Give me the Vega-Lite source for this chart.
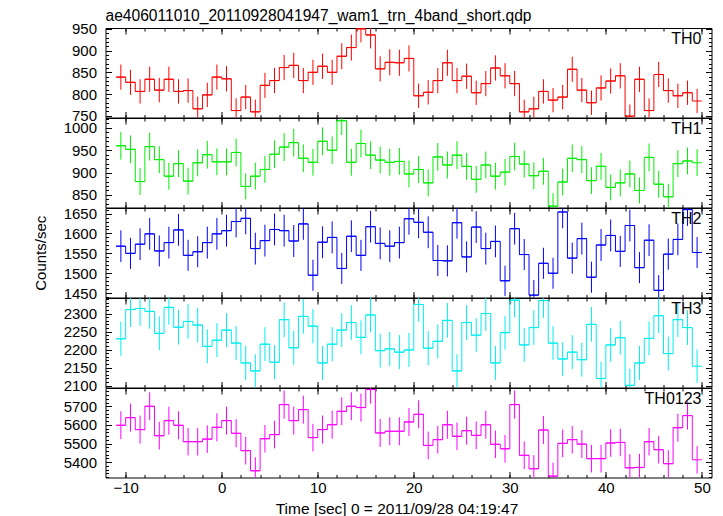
{
"$schema":"https://vega.github.io/schema/vega-lite/v6.json",
"padding":{"left":32.5,"top":8,"right":5,"bottom":5},
"background":"white",
"bounds":"flush",
"title":{"text":"ae406011010_20110928041947_wam1_trn_4band_short.qdp","anchor":"start","frame":"group","fontSize":15.6,"font":"Liberation Sans","fontWeight":"normal","color":"#000","offset":-3},
"datasets":{"lc":[
{"t0":-11,"t":-10.5,"t1":-10,"TH0":839,"e0":29,"TH1":960,"e1":31,"TH2":1568,"e2":40,"TH3":2230,"e3":47,"TH0123":5598,"e4":75},
{"t0":-10,"t":-9.5,"t1":-9,"TH0":827,"e0":29,"TH1":952,"e1":31,"TH2":1550,"e2":39,"TH3":2311,"e3":48,"TH0123":5639,"e4":75},
{"t0":-9,"t":-8.5,"t1":-8,"TH0":806,"e0":28,"TH1":880,"e1":30,"TH2":1573,"e2":40,"TH3":2314,"e3":48,"TH0123":5575,"e4":75},
{"t0":-8,"t":-7.5,"t1":-7,"TH0":834,"e0":29,"TH1":958,"e1":31,"TH2":1599,"e2":40,"TH3":2306,"e3":48,"TH0123":5700,"e4":75},
{"t0":-7,"t":-6.5,"t1":-6,"TH0":809,"e0":28,"TH1":929,"e1":30,"TH2":1556,"e2":39,"TH3":2245,"e3":47,"TH0123":5542,"e4":74},
{"t0":-6,"t":-5.5,"t1":-5,"TH0":834,"e0":29,"TH1":892,"e1":30,"TH2":1577,"e2":40,"TH3":2317,"e3":48,"TH0123":5623,"e4":75},
{"t0":-5,"t":-4.5,"t1":-4,"TH0":806,"e0":28,"TH1":920,"e1":30,"TH2":1609,"e2":40,"TH3":2262,"e3":48,"TH0123":5598,"e4":75},
{"t0":-4,"t":-3.5,"t1":-3,"TH0":808,"e0":28,"TH1":881,"e1":30,"TH2":1545,"e2":39,"TH3":2278,"e3":48,"TH0123":5510,"e4":74},
{"t0":-3,"t":-2.5,"t1":-2,"TH0":766,"e0":28,"TH1":922,"e1":30,"TH2":1554,"e2":39,"TH3":2268,"e3":48,"TH0123":5510,"e4":74},
{"t0":-2,"t":-1.5,"t1":-1,"TH0":798,"e0":28,"TH1":940,"e1":31,"TH2":1577,"e2":40,"TH3":2209,"e3":47,"TH0123":5524,"e4":74},
{"t0":-1,"t":-0.5,"t1":0,"TH0":839,"e0":29,"TH1":924,"e1":30,"TH2":1599,"e2":40,"TH3":2226,"e3":47,"TH0123":5587,"e4":75},
{"t0":0,"t":0.5,"t1":1,"TH0":835,"e0":29,"TH1":924,"e1":30,"TH2":1607,"e2":40,"TH3":2254,"e3":47,"TH0123":5623,"e4":75},
{"t0":1,"t":1.5,"t1":2,"TH0":762,"e0":28,"TH1":945,"e1":31,"TH2":1630,"e2":40,"TH3":2218,"e3":47,"TH0123":5555,"e4":75},
{"t0":2,"t":2.5,"t1":3,"TH0":793,"e0":28,"TH1":869,"e1":29,"TH2":1638,"e2":40,"TH3":2163,"e3":47,"TH0123":5462,"e4":74},
{"t0":3,"t":3.5,"t1":4,"TH0":759,"e0":28,"TH1":892,"e1":30,"TH2":1562,"e2":40,"TH3":2141,"e3":46,"TH0123":5354,"e4":73},
{"t0":4,"t":4.5,"t1":5,"TH0":820,"e0":29,"TH1":907,"e1":30,"TH2":1582,"e2":40,"TH3":2215,"e3":47,"TH0123":5526,"e4":74},
{"t0":5,"t":5.5,"t1":6,"TH0":831,"e0":29,"TH1":941,"e1":31,"TH2":1610,"e2":40,"TH3":2165,"e3":47,"TH0123":5548,"e4":74},
{"t0":6,"t":6.5,"t1":7,"TH0":861,"e0":29,"TH1":957,"e1":31,"TH2":1607,"e2":40,"TH3":2283,"e3":48,"TH0123":5709,"e4":76},
{"t0":7,"t":7.5,"t1":8,"TH0":866,"e0":29,"TH1":967,"e1":31,"TH2":1581,"e2":40,"TH3":2205,"e3":47,"TH0123":5623,"e4":75},
{"t0":8,"t":8.5,"t1":9,"TH0":831,"e0":29,"TH1":932,"e1":31,"TH2":1624,"e2":40,"TH3":2292,"e3":48,"TH0123":5682,"e4":75},
{"t0":9,"t":9.5,"t1":10,"TH0":850,"e0":29,"TH1":923,"e1":30,"TH2":1495,"e2":39,"TH3":2265,"e3":48,"TH0123":5532,"e4":74},
{"t0":10,"t":10.5,"t1":11,"TH0":864,"e0":29,"TH1":970,"e1":31,"TH2":1578,"e2":40,"TH3":2163,"e3":47,"TH0123":5575,"e4":75},
{"t0":11,"t":11.5,"t1":12,"TH0":850,"e0":29,"TH1":950,"e1":31,"TH2":1590,"e2":40,"TH3":2215,"e3":47,"TH0123":5601,"e4":75},
{"t0":12,"t":12.5,"t1":13,"TH0":887,"e0":30,"TH1":1016,"e1":32,"TH2":1512,"e2":39,"TH3":2254,"e3":47,"TH0123":5673,"e4":75},
{"t0":13,"t":13.5,"t1":14,"TH0":907,"e0":30,"TH1":923,"e1":30,"TH2":1593,"e2":40,"TH3":2275,"e3":48,"TH0123":5700,"e4":75},
{"t0":14,"t":14.5,"t1":15,"TH0":950,"e0":31,"TH1":965,"e1":31,"TH2":1545,"e2":39,"TH3":2234,"e3":47,"TH0123":5693,"e4":75},
{"t0":15,"t":15.5,"t1":16,"TH0":936,"e0":31,"TH1":939,"e1":31,"TH2":1617,"e2":40,"TH3":2296,"e3":48,"TH0123":5790,"e4":76},
{"t0":16,"t":16.5,"t1":17,"TH0":858,"e0":29,"TH1":928,"e1":30,"TH2":1575,"e2":40,"TH3":2197,"e3":47,"TH0123":5557,"e4":75},
{"t0":17,"t":17.5,"t1":18,"TH0":873,"e0":30,"TH1":923,"e1":30,"TH2":1568,"e2":40,"TH3":2202,"e3":47,"TH0123":5566,"e4":75},
{"t0":18,"t":18.5,"t1":19,"TH0":872,"e0":30,"TH1":925,"e1":30,"TH2":1577,"e2":40,"TH3":2193,"e3":47,"TH0123":5566,"e4":75},
{"t0":19,"t":19.5,"t1":20,"TH0":882,"e0":30,"TH1":897,"e1":30,"TH2":1637,"e2":40,"TH3":2199,"e3":47,"TH0123":5616,"e4":75},
{"t0":20,"t":20.5,"t1":21,"TH0":796,"e0":28,"TH1":907,"e1":30,"TH2":1628,"e2":40,"TH3":2325,"e3":48,"TH0123":5657,"e4":75},
{"t0":21,"t":21.5,"t1":22,"TH0":804,"e0":28,"TH1":877,"e1":30,"TH2":1603,"e2":40,"TH3":2204,"e3":47,"TH0123":5490,"e4":74},
{"t0":22,"t":22.5,"t1":23,"TH0":831,"e0":29,"TH1":935,"e1":31,"TH2":1532,"e2":39,"TH3":2223,"e3":47,"TH0123":5521,"e4":74},
{"t0":23,"t":23.5,"t1":24,"TH0":872,"e0":30,"TH1":917,"e1":30,"TH2":1531,"e2":39,"TH3":2281,"e3":48,"TH0123":5601,"e4":75},
{"t0":24,"t":24.5,"t1":25,"TH0":831,"e0":29,"TH1":939,"e1":31,"TH2":1627,"e2":40,"TH3":2141,"e3":46,"TH0123":5539,"e4":74},
{"t0":25,"t":25.5,"t1":26,"TH0":841,"e0":29,"TH1":914,"e1":30,"TH2":1541,"e2":39,"TH3":2275,"e3":48,"TH0123":5569,"e4":75},
{"t0":26,"t":26.5,"t1":27,"TH0":803,"e0":28,"TH1":885,"e1":30,"TH2":1616,"e2":40,"TH3":2240,"e3":47,"TH0123":5544,"e4":74},
{"t0":27,"t":27.5,"t1":28,"TH0":824,"e0":29,"TH1":917,"e1":30,"TH2":1562,"e2":40,"TH3":2300,"e3":48,"TH0123":5601,"e4":75},
{"t0":28,"t":28.5,"t1":29,"TH0":860,"e0":29,"TH1":892,"e1":30,"TH2":1580,"e2":40,"TH3":2163,"e3":47,"TH0123":5496,"e4":74},
{"t0":29,"t":29.5,"t1":30,"TH0":842,"e0":29,"TH1":901,"e1":30,"TH2":1481,"e2":38,"TH3":2247,"e3":47,"TH0123":5472,"e4":74},
{"t0":30,"t":30.5,"t1":31,"TH0":824,"e0":29,"TH1":936,"e1":31,"TH2":1612,"e2":40,"TH3":2337,"e3":48,"TH0123":5709,"e4":76},
{"t0":31,"t":31.5,"t1":32,"TH0":759,"e0":28,"TH1":919,"e1":30,"TH2":1547,"e2":39,"TH3":2213,"e3":47,"TH0123":5437,"e4":74},
{"t0":32,"t":32.5,"t1":33,"TH0":766,"e0":28,"TH1":893,"e1":30,"TH2":1445,"e2":38,"TH3":2261,"e3":48,"TH0123":5365,"e4":73},
{"t0":33,"t":33.5,"t1":34,"TH0":806,"e0":28,"TH1":903,"e1":30,"TH2":1525,"e2":39,"TH3":2336,"e3":48,"TH0123":5573,"e4":75},
{"t0":34,"t":34.5,"t1":35,"TH0":786,"e0":28,"TH1":825,"e1":29,"TH2":1500,"e2":39,"TH3":2218,"e3":47,"TH0123":5325,"e4":73},
{"t0":35,"t":35.5,"t1":36,"TH0":793,"e0":28,"TH1":879,"e1":30,"TH2":1654,"e2":41,"TH3":2174,"e3":47,"TH0123":5501,"e4":74},
{"t0":36,"t":36.5,"t1":37,"TH0":857,"e0":29,"TH1":932,"e1":31,"TH2":1538,"e2":39,"TH3":2193,"e3":47,"TH0123":5521,"e4":74},
{"t0":37,"t":37.5,"t1":38,"TH0":809,"e0":28,"TH1":929,"e1":30,"TH2":1587,"e2":40,"TH3":2172,"e3":47,"TH0123":5497,"e4":74},
{"t0":38,"t":38.5,"t1":39,"TH0":780,"e0":28,"TH1":882,"e1":30,"TH2":1490,"e2":39,"TH3":2270,"e3":48,"TH0123":5419,"e4":74},
{"t0":39,"t":39.5,"t1":40,"TH0":814,"e0":29,"TH1":914,"e1":30,"TH2":1571,"e2":40,"TH3":2120,"e3":46,"TH0123":5419,"e4":74},
{"t0":40,"t":40.5,"t1":41,"TH0":830,"e0":29,"TH1":867,"e1":29,"TH2":1595,"e2":40,"TH3":2213,"e3":47,"TH0123":5503,"e4":74},
{"t0":41,"t":41.5,"t1":42,"TH0":842,"e0":29,"TH1":877,"e1":30,"TH2":1555,"e2":39,"TH3":2233,"e3":47,"TH0123":5506,"e4":74},
{"t0":42,"t":42.5,"t1":43,"TH0":749,"e0":27,"TH1":897,"e1":30,"TH2":1620,"e2":40,"TH3":2101,"e3":46,"TH0123":5370,"e4":73},
{"t0":43,"t":43.5,"t1":44,"TH0":834,"e0":29,"TH1":860,"e1":29,"TH2":1514,"e2":39,"TH3":2163,"e3":47,"TH0123":5372,"e4":73},
{"t0":44,"t":44.5,"t1":45,"TH0":762,"e0":28,"TH1":934,"e1":31,"TH2":1583,"e2":40,"TH3":2231,"e3":47,"TH0123":5510,"e4":74},
{"t0":45,"t":45.5,"t1":46,"TH0":845,"e0":29,"TH1":874,"e1":30,"TH2":1457,"e2":38,"TH3":2294,"e3":48,"TH0123":5467,"e4":74},
{"t0":46,"t":46.5,"t1":47,"TH0":808,"e0":28,"TH1":846,"e1":29,"TH2":1548,"e2":39,"TH3":2189,"e3":47,"TH0123":5392,"e4":73},
{"t0":47,"t":47.5,"t1":48,"TH0":796,"e0":28,"TH1":920,"e1":30,"TH2":1585,"e2":40,"TH3":2283,"e3":48,"TH0123":5585,"e4":75},
{"t0":48,"t":48.5,"t1":49,"TH0":803,"e0":28,"TH1":926,"e1":30,"TH2":1660,"e2":41,"TH3":2261,"e3":48,"TH0123":5650,"e4":75},
{"t0":49,"t":49.5,"t1":50,"TH0":784,"e0":28,"TH1":922,"e1":30,"TH2":1552,"e2":39,"TH3":2154,"e3":46,"TH0123":5413,"e4":74}
]},
"data":{"name":"lc"},
"spacing":0,
"vconcat":[
{"width":606,"height":89.5,
 "layer":[
  {"mark":{"type":"rule","color":"#ff0000","strokeWidth":1},
   "encoding":{
    "x":{"field":"t0","type":"quantitative","scale":{"domain":[-12.1,51],"nice":false,"zero":false},"axis":{"orient":"bottom","values":[-10,0,10,20,30,40,50],"tickSize":-6,"labels":false,"title":null}},
    "x2":{"field":"t1"},
    "y":{"field":"TH0","type":"quantitative","scale":{"domain":[746,952],"nice":false,"zero":false,"clamp":true},"axis":{"orient":"left","values":[750,800,850,900,950],"format":"d","tickSize":-6,"labelPadding":15,"title":null}}}},
  {"mark":{"type":"line","interpolate":"step-after","color":"#ff0000","strokeWidth":1},
   "encoding":{
    "x":{"field":"t0","type":"quantitative","scale":{"domain":[-12.1,51],"nice":false,"zero":false},"axis":{"orient":"top","values":[-10,0,10,20,30,40,50],"tickSize":-6,"labels":false,"title":null}},
    "y":{"field":"TH0","type":"quantitative","scale":{"domain":[746,952],"nice":false,"zero":false,"clamp":true},"axis":{"orient":"right","values":[750,800,850,900,950],"tickSize":-6,"labels":false,"title":null}}}},
  {"mark":{"type":"errorbar","color":"#ff0000","thickness":1},
   "encoding":{
    "x":{"field":"t","type":"quantitative","scale":{"domain":[-12.1,51],"nice":false,"zero":false},"axis":{"orient":"bottom","values":[-10,-8,-6,-4,-2,0,2,4,6,8,10,12,14,16,18,20,22,24,26,28,30,32,34,36,38,40,42,44,46,48,50],"tickSize":-3,"labels":false,"title":null}},
    "y":{"field":"TH0","type":"quantitative","scale":{"domain":[746,952],"nice":false,"zero":false,"clamp":true},"axis":{"orient":"left","values":[750,760,770,780,790,800,810,820,830,840,850,860,870,880,890,900,910,920,930,940,950],"tickSize":-3,"labels":false,"title":null}},
    "yError":{"field":"e0"}}},
  {"mark":{"type":"point","opacity":0},
   "encoding":{
    "x":{"field":"t","type":"quantitative","scale":{"domain":[-12.1,51],"nice":false,"zero":false},"axis":{"orient":"top","values":[-10,-8,-6,-4,-2,0,2,4,6,8,10,12,14,16,18,20,22,24,26,28,30,32,34,36,38,40,42,44,46,48,50],"tickSize":-3,"labels":false,"title":null}},
    "y":{"field":"TH0","type":"quantitative","scale":{"domain":[746,952],"nice":false,"zero":false,"clamp":true},"axis":{"orient":"right","values":[750,760,770,780,790,800,810,820,830,840,850,860,870,880,890,900,910,920,930,940,950],"tickSize":-3,"labels":false,"title":null}}}},
  {"data":{"values":[{"band":"TH0"}]},
   "mark":{"type":"text","align":"right","baseline":"top","dx":-10,"dy":3,"fontSize":16,"font":"Liberation Sans","color":"#000"},
   "encoding":{"text":{"field":"band"},"x":{"datum":51,"axis":null},"y":{"datum":952,"axis":null}}}
 ],
 "resolve":{"axis":{"x":"independent","y":"independent"}}
},
{"width":606,"height":89.5,
 "layer":[
  {"mark":{"type":"rule","color":"#00ee00","strokeWidth":1},
   "encoding":{
    "x":{"field":"t0","type":"quantitative","scale":{"domain":[-12.1,51],"nice":false,"zero":false},"axis":{"orient":"bottom","values":[-10,0,10,20,30,40,50],"tickSize":-6,"labels":false,"title":null}},
    "x2":{"field":"t1"},
    "y":{"field":"TH1","type":"quantitative","scale":{"domain":[822,1022],"nice":false,"zero":false,"clamp":true},"axis":{"orient":"left","values":[850,900,950,1000],"format":"d","tickSize":-6,"labelPadding":15,"title":null}}}},
  {"mark":{"type":"line","interpolate":"step-after","color":"#00ee00","strokeWidth":1},
   "encoding":{
    "x":{"field":"t0","type":"quantitative","scale":{"domain":[-12.1,51],"nice":false,"zero":false},"axis":{"orient":"top","values":[-10,0,10,20,30,40,50],"tickSize":-6,"labels":false,"title":null}},
    "y":{"field":"TH1","type":"quantitative","scale":{"domain":[822,1022],"nice":false,"zero":false,"clamp":true},"axis":{"orient":"right","values":[850,900,950,1000],"tickSize":-6,"labels":false,"title":null}}}},
  {"mark":{"type":"errorbar","color":"#00ee00","thickness":1},
   "encoding":{
    "x":{"field":"t","type":"quantitative","scale":{"domain":[-12.1,51],"nice":false,"zero":false},"axis":{"orient":"bottom","values":[-10,-8,-6,-4,-2,0,2,4,6,8,10,12,14,16,18,20,22,24,26,28,30,32,34,36,38,40,42,44,46,48,50],"tickSize":-3,"labels":false,"title":null}},
    "y":{"field":"TH1","type":"quantitative","scale":{"domain":[822,1022],"nice":false,"zero":false,"clamp":true},"axis":{"orient":"left","values":[830,840,850,860,870,880,890,900,910,920,930,940,950,960,970,980,990,1000,1010,1020],"tickSize":-3,"labels":false,"title":null}},
    "yError":{"field":"e1"}}},
  {"mark":{"type":"point","opacity":0},
   "encoding":{
    "x":{"field":"t","type":"quantitative","scale":{"domain":[-12.1,51],"nice":false,"zero":false},"axis":{"orient":"top","values":[-10,-8,-6,-4,-2,0,2,4,6,8,10,12,14,16,18,20,22,24,26,28,30,32,34,36,38,40,42,44,46,48,50],"tickSize":-3,"labels":false,"title":null}},
    "y":{"field":"TH1","type":"quantitative","scale":{"domain":[822,1022],"nice":false,"zero":false,"clamp":true},"axis":{"orient":"right","values":[830,840,850,860,870,880,890,900,910,920,930,940,950,960,970,980,990,1000,1010,1020],"tickSize":-3,"labels":false,"title":null}}}},
  {"data":{"values":[{"band":"TH1"}]},
   "mark":{"type":"text","align":"right","baseline":"top","dx":-10,"dy":3,"fontSize":16,"font":"Liberation Sans","color":"#000"},
   "encoding":{"text":{"field":"band"},"x":{"datum":51,"axis":null},"y":{"datum":1022,"axis":null}}}
 ],
 "resolve":{"axis":{"x":"independent","y":"independent"}}
},
{"width":606,"height":89.5,
 "layer":[
  {"mark":{"type":"rule","color":"#0000ff","strokeWidth":1},
   "encoding":{
    "x":{"field":"t0","type":"quantitative","scale":{"domain":[-12.1,51],"nice":false,"zero":false},"axis":{"orient":"bottom","values":[-10,0,10,20,30,40,50],"tickSize":-6,"labels":false,"title":null}},
    "x2":{"field":"t1"},
    "y":{"field":"TH2","type":"quantitative","scale":{"domain":[1439,1664],"nice":false,"zero":false,"clamp":true},"axis":{"orient":"left","values":[1450,1500,1550,1600,1650],"format":"d","tickSize":-6,"labelPadding":15,"title":"Counts/sec","titlePadding":15}}}},
  {"mark":{"type":"line","interpolate":"step-after","color":"#0000ff","strokeWidth":1},
   "encoding":{
    "x":{"field":"t0","type":"quantitative","scale":{"domain":[-12.1,51],"nice":false,"zero":false},"axis":{"orient":"top","values":[-10,0,10,20,30,40,50],"tickSize":-6,"labels":false,"title":null}},
    "y":{"field":"TH2","type":"quantitative","scale":{"domain":[1439,1664],"nice":false,"zero":false,"clamp":true},"axis":{"orient":"right","values":[1450,1500,1550,1600,1650],"tickSize":-6,"labels":false,"title":null}}}},
  {"mark":{"type":"errorbar","color":"#0000ff","thickness":1},
   "encoding":{
    "x":{"field":"t","type":"quantitative","scale":{"domain":[-12.1,51],"nice":false,"zero":false},"axis":{"orient":"bottom","values":[-10,-8,-6,-4,-2,0,2,4,6,8,10,12,14,16,18,20,22,24,26,28,30,32,34,36,38,40,42,44,46,48,50],"tickSize":-3,"labels":false,"title":null}},
    "y":{"field":"TH2","type":"quantitative","scale":{"domain":[1439,1664],"nice":false,"zero":false,"clamp":true},"axis":{"orient":"left","values":[1440,1450,1460,1470,1480,1490,1500,1510,1520,1530,1540,1550,1560,1570,1580,1590,1600,1610,1620,1630,1640,1650,1660],"tickSize":-3,"labels":false,"title":null}},
    "yError":{"field":"e2"}}},
  {"mark":{"type":"point","opacity":0},
   "encoding":{
    "x":{"field":"t","type":"quantitative","scale":{"domain":[-12.1,51],"nice":false,"zero":false},"axis":{"orient":"top","values":[-10,-8,-6,-4,-2,0,2,4,6,8,10,12,14,16,18,20,22,24,26,28,30,32,34,36,38,40,42,44,46,48,50],"tickSize":-3,"labels":false,"title":null}},
    "y":{"field":"TH2","type":"quantitative","scale":{"domain":[1439,1664],"nice":false,"zero":false,"clamp":true},"axis":{"orient":"right","values":[1440,1450,1460,1470,1480,1490,1500,1510,1520,1530,1540,1550,1560,1570,1580,1590,1600,1610,1620,1630,1640,1650,1660],"tickSize":-3,"labels":false,"title":null}}}},
  {"data":{"values":[{"band":"TH2"}]},
   "mark":{"type":"text","align":"right","baseline":"top","dx":-10,"dy":3,"fontSize":16,"font":"Liberation Sans","color":"#000"},
   "encoding":{"text":{"field":"band"},"x":{"datum":51,"axis":null},"y":{"datum":1664,"axis":null}}}
 ],
 "resolve":{"axis":{"x":"independent","y":"independent"}}
},
{"width":606,"height":89.5,
 "layer":[
  {"mark":{"type":"rule","color":"#00eeee","strokeWidth":1},
   "encoding":{
    "x":{"field":"t0","type":"quantitative","scale":{"domain":[-12.1,51],"nice":false,"zero":false},"axis":{"orient":"bottom","values":[-10,0,10,20,30,40,50],"tickSize":-6,"labels":false,"title":null}},
    "x2":{"field":"t1"},
    "y":{"field":"TH3","type":"quantitative","scale":{"domain":[2095,2343],"nice":false,"zero":false,"clamp":true},"axis":{"orient":"left","values":[2100,2150,2200,2250,2300],"format":"d","tickSize":-6,"labelPadding":15,"title":null}}}},
  {"mark":{"type":"line","interpolate":"step-after","color":"#00eeee","strokeWidth":1},
   "encoding":{
    "x":{"field":"t0","type":"quantitative","scale":{"domain":[-12.1,51],"nice":false,"zero":false},"axis":{"orient":"top","values":[-10,0,10,20,30,40,50],"tickSize":-6,"labels":false,"title":null}},
    "y":{"field":"TH3","type":"quantitative","scale":{"domain":[2095,2343],"nice":false,"zero":false,"clamp":true},"axis":{"orient":"right","values":[2100,2150,2200,2250,2300],"tickSize":-6,"labels":false,"title":null}}}},
  {"mark":{"type":"errorbar","color":"#00eeee","thickness":1},
   "encoding":{
    "x":{"field":"t","type":"quantitative","scale":{"domain":[-12.1,51],"nice":false,"zero":false},"axis":{"orient":"bottom","values":[-10,-8,-6,-4,-2,0,2,4,6,8,10,12,14,16,18,20,22,24,26,28,30,32,34,36,38,40,42,44,46,48,50],"tickSize":-3,"labels":false,"title":null}},
    "y":{"field":"TH3","type":"quantitative","scale":{"domain":[2095,2343],"nice":false,"zero":false,"clamp":true},"axis":{"orient":"left","values":[2100,2110,2120,2130,2140,2150,2160,2170,2180,2190,2200,2210,2220,2230,2240,2250,2260,2270,2280,2290,2300,2310,2320,2330,2340],"tickSize":-3,"labels":false,"title":null}},
    "yError":{"field":"e3"}}},
  {"mark":{"type":"point","opacity":0},
   "encoding":{
    "x":{"field":"t","type":"quantitative","scale":{"domain":[-12.1,51],"nice":false,"zero":false},"axis":{"orient":"top","values":[-10,-8,-6,-4,-2,0,2,4,6,8,10,12,14,16,18,20,22,24,26,28,30,32,34,36,38,40,42,44,46,48,50],"tickSize":-3,"labels":false,"title":null}},
    "y":{"field":"TH3","type":"quantitative","scale":{"domain":[2095,2343],"nice":false,"zero":false,"clamp":true},"axis":{"orient":"right","values":[2100,2110,2120,2130,2140,2150,2160,2170,2180,2190,2200,2210,2220,2230,2240,2250,2260,2270,2280,2290,2300,2310,2320,2330,2340],"tickSize":-3,"labels":false,"title":null}}}},
  {"data":{"values":[{"band":"TH3"}]},
   "mark":{"type":"text","align":"right","baseline":"top","dx":-10,"dy":3,"fontSize":16,"font":"Liberation Sans","color":"#000"},
   "encoding":{"text":{"field":"band"},"x":{"datum":51,"axis":null},"y":{"datum":2343,"axis":null}}}
 ],
 "resolve":{"axis":{"x":"independent","y":"independent"}}
},
{"width":606,"height":89.5,
 "layer":[
  {"mark":{"type":"rule","color":"#ff00ff","strokeWidth":1},
   "encoding":{
    "x":{"field":"t0","type":"quantitative","scale":{"domain":[-12.1,51],"nice":false,"zero":false},"axis":{"orient":"bottom","values":[-10,0,10,20,30,40,50],"tickSize":-6,"labelPadding":9,"title":"Time [sec] 0 = 2011/09/28 04:19:47","titleFontSize":15.5,"titlePadding":6,"titleX":291}},
    "x2":{"field":"t1"},
    "y":{"field":"TH0123","type":"quantitative","scale":{"domain":[5318,5798],"nice":false,"zero":false,"clamp":true},"axis":{"orient":"left","values":[5400,5500,5600,5700],"format":"d","tickSize":-6,"labelPadding":15,"title":null}}}},
  {"mark":{"type":"line","interpolate":"step-after","color":"#ff00ff","strokeWidth":1},
   "encoding":{
    "x":{"field":"t0","type":"quantitative","scale":{"domain":[-12.1,51],"nice":false,"zero":false},"axis":{"orient":"top","values":[-10,0,10,20,30,40,50],"tickSize":-6,"labels":false,"title":null}},
    "y":{"field":"TH0123","type":"quantitative","scale":{"domain":[5318,5798],"nice":false,"zero":false,"clamp":true},"axis":{"orient":"right","values":[5400,5500,5600,5700],"tickSize":-6,"labels":false,"title":null}}}},
  {"mark":{"type":"errorbar","color":"#ff00ff","thickness":1},
   "encoding":{
    "x":{"field":"t","type":"quantitative","scale":{"domain":[-12.1,51],"nice":false,"zero":false},"axis":{"orient":"bottom","values":[-10,-8,-6,-4,-2,0,2,4,6,8,10,12,14,16,18,20,22,24,26,28,30,32,34,36,38,40,42,44,46,48,50],"tickSize":-3,"labels":false,"title":null}},
    "y":{"field":"TH0123","type":"quantitative","scale":{"domain":[5318,5798],"nice":false,"zero":false,"clamp":true},"axis":{"orient":"left","values":[5320,5340,5360,5380,5400,5420,5440,5460,5480,5500,5520,5540,5560,5580,5600,5620,5640,5660,5680,5700,5720,5740,5760,5780],"tickSize":-3,"labels":false,"title":null}},
    "yError":{"field":"e4"}}},
  {"mark":{"type":"point","opacity":0},
   "encoding":{
    "x":{"field":"t","type":"quantitative","scale":{"domain":[-12.1,51],"nice":false,"zero":false},"axis":{"orient":"top","values":[-10,-8,-6,-4,-2,0,2,4,6,8,10,12,14,16,18,20,22,24,26,28,30,32,34,36,38,40,42,44,46,48,50],"tickSize":-3,"labels":false,"title":null}},
    "y":{"field":"TH0123","type":"quantitative","scale":{"domain":[5318,5798],"nice":false,"zero":false,"clamp":true},"axis":{"orient":"right","values":[5320,5340,5360,5380,5400,5420,5440,5460,5480,5500,5520,5540,5560,5580,5600,5620,5640,5660,5680,5700,5720,5740,5760,5780],"tickSize":-3,"labels":false,"title":null}}}},
  {"data":{"values":[{"band":"TH0123"}]},
   "mark":{"type":"text","align":"right","baseline":"top","dx":-10,"dy":3,"fontSize":16,"font":"Liberation Sans","color":"#000"},
   "encoding":{"text":{"field":"band"},"x":{"datum":51,"axis":null},"y":{"datum":5798,"axis":null}}}
 ],
 "resolve":{"axis":{"x":"independent","y":"independent"}}
}
],
"config":{
 "view":{"stroke":"#000","strokeWidth":1},
 "axis":{"domain":false,"grid":false,"ticks":true,"tickColor":"#000","tickWidth":1,"labelFont":"Liberation Sans","labelFontSize":15,"labelColor":"#000","labelFlush":false,"labelOverlap":false,"titleFont":"Liberation Sans","titleFontSize":15,"titleFontWeight":"normal","titleColor":"#000"}
}
}
